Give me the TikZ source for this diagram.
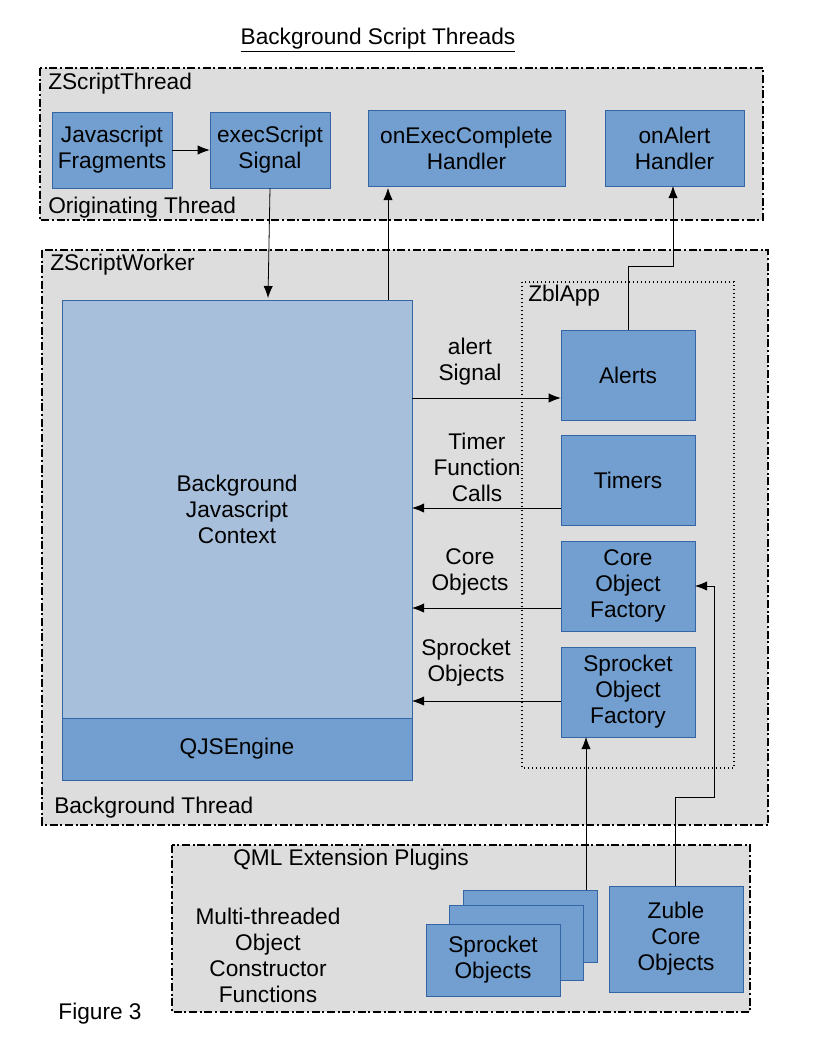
\documentclass[tikz,border=0pt]{standalone}
\usepackage{fontspec}
\setmainfont{Liberation Sans}
\usetikzlibrary{arrows.meta}
\definecolor{bfill}{HTML}{729FCF}
\definecolor{bline}{HTML}{3465A4}
\definecolor{lfill}{HTML}{A7BFDB}
\definecolor{gfill}{HTML}{DDDDDD}
\begin{document}
\begin{tikzpicture}[x=0.75pt,y=-0.75pt,
  every node/.style={font=\fontsize{17}{19.5}\selectfont, inner sep=0pt},
  blk/.style={draw=bline, fill=bfill, align=center},
  grp/.style={draw=black, fill=gfill, line width=0.9pt, dash pattern=on 6pt off 2pt on 1.5pt off 2pt},
  lbl/.style={anchor=west, align=left},
  arr/.style={-{Latex[length=9pt,width=7pt]}, line width=0.6pt}]
\useasboundingbox (0,0) rectangle (816,1056);
\node (title) at (378,40) {\underline{Background Script Threads}};
% originating thread
\draw[grp] (40,68) rectangle (763,220);
\node[lbl] (zst) at (48,84) {ZScriptThread};
\node[lbl] (ot) at (48,208) {Originating Thread};
\node[blk, minimum width=120*0.75pt, minimum height=76*0.75pt] (jf) at (112,150) {Javascript\\Fragments};
\node[blk, minimum width=120*0.75pt, minimum height=76*0.75pt] (es) at (270,150) {execScript\\Signal};
\node[blk, minimum width=197*0.75pt, minimum height=76*0.75pt] (oec) at (466.5,148) {onExecComplete\\Handler};
\node[blk, minimum width=139*0.75pt, minimum height=76*0.75pt] (oa) at (674.5,148) {onAlert\\Handler};
\draw[arr] (jf.east) -- (es.west);
% worker
\draw[grp] (42,250) rectangle (768,825);
\node[lbl] (zsw) at (50,265) {ZScriptWorker};
\node[lbl] (bt) at (54,808) {Background Thread};
\node[draw=bline, fill=lfill, minimum width=350*0.75pt, minimum height=418*0.75pt, align=center] (ctx) at (237,509) {Background\\Javascript\\Context};
\node[blk, minimum width=350*0.75pt, minimum height=62*0.75pt] (qjs) at (237,749) {QJSEngine};
\draw[arr] (es.south) -- (268,298) coordinate (ein);
\draw[arr] (388,300) coordinate (eout) -- (388,188);
\draw[dotted, line width=1pt] (522,282) rectangle (734,768);
\node[lbl] (zbl) at (528,296) {ZblApp};
\node[blk, minimum width=134*0.75pt, minimum height=90*0.75pt] (al) at (628,375) {Alerts};
\node[blk, minimum width=134*0.75pt, minimum height=90*0.75pt] (tm) at (628,480) {Timers};
\node[blk, minimum width=134*0.75pt, minimum height=90*0.75pt] (cof) at (628,586) {Core\\Object\\Factory};
\node[blk, minimum width=134*0.75pt, minimum height=90*0.75pt] (sof) at (628,692) {Sprocket\\Object\\Factory};
\draw[arr] (412,398) -- (al.west |- 0,398);
\node[align=center] at (470,362) {alert\\Signal};
\draw[arr] (tm.west |- 0,508) -- (412,508);
\node[align=center] at (477,467) {Timer\\Function\\Calls};
\draw[arr] (cof.west |- 0,608) -- (412,608);
\node[align=center] at (470,572) {Core\\Objects};
\draw[arr] (sof.west |- 0,701) -- (412,701);
\node[align=center] at (466,663) {Sprocket\\Objects};
\draw[arr] (al.north) -- (628,266) -- (673,266) -- (673,186);
% plugins
\draw[grp] (172,845) rectangle (750,1012);
\node[lbl] (qml) at (233,860) {QML Extension Plugins};
\node[align=center] (mt) at (268,955) {Multi-threaded\\Object\\Constructor\\Functions};
\draw[draw=bline, fill=bfill] (463,890) rectangle (597,962);
\draw[draw=bline, fill=bfill] (449,905) rectangle (583,980);
\node[blk, minimum width=134*0.75pt, minimum height=72*0.75pt] (sp) at (493,960) {Sprocket\\Objects};
\node[blk, minimum width=134*0.75pt, minimum height=106*0.75pt] (zc) at (676,939) {Zuble\\Core\\Objects};
\draw[arr] (586,890) -- (586,737);
\draw[arr] (675,886) -- (675,797) -- (714,797) -- (714,586) -- (695,586);
\node (fig) at (100,1014) {Figure 3};
\end{tikzpicture}
\end{document}
